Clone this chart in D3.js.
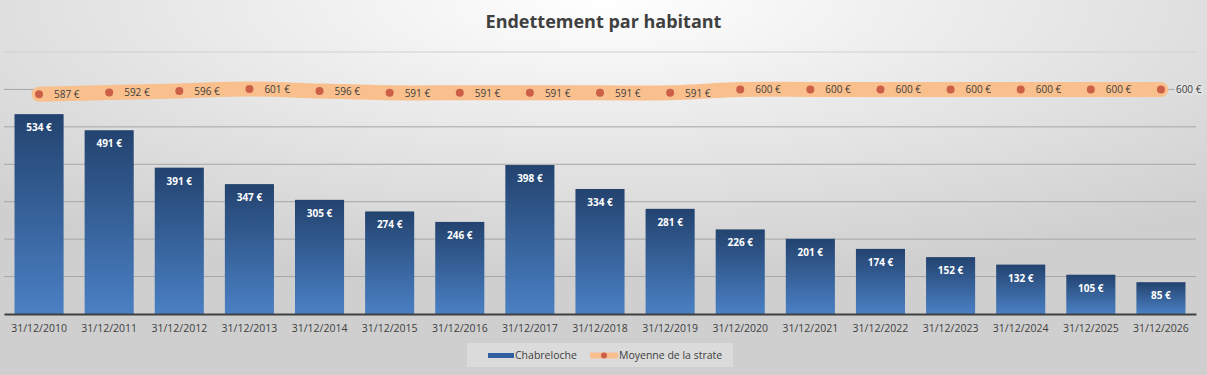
<!DOCTYPE html>
<html>
<head>
<meta charset="utf-8">
<script src="https://cdn.jsdelivr.net/npm/d3@7"></script>
<style>
  html, body { margin: 0; padding: 0; }
  body { width: 1207px; height: 375px; overflow: hidden; }
  svg { display: block; font-family: "Open Sans", "Noto Sans", sans-serif; }
</style>
</head>
<body>
<div id="chart"></div>
<script>
const categories = ['31/12/2010', '31/12/2011', '31/12/2012', '31/12/2013', '31/12/2014', '31/12/2015',
  '31/12/2016', '31/12/2017', '31/12/2018', '31/12/2019', '31/12/2020', '31/12/2021', '31/12/2022',
  '31/12/2023', '31/12/2024', '31/12/2025', '31/12/2026'];
const chabreloche = [534, 491, 391, 347, 305, 274, 246, 398, 334, 281, 226, 201, 174, 152, 132, 105, 85];
const moyenne = [587, 592, 596, 601, 596, 591, 591, 591, 591, 591, 600, 600, 600, 600, 600, 600, 600];
const yTicks = [0, 100, 200, 300, 400, 500, 600, 700];

const width = 1207, height = 375;
const margin = { top: 52, right: 11, bottom: 61, left: 4 };
const innerW = width - margin.left - margin.right;
const innerH = height - margin.top - margin.bottom;

const svg = d3.select('#chart').append('svg')
  .attr('width', width)
  .attr('height', height);

const defs = svg.append('defs');
const bg = defs.append('radialGradient').attr('id', 'bg')
  .attr('cx', '50%').attr('cy', '0%').attr('r', '75%');
bg.append('stop').attr('offset', '0%').attr('stop-color', '#ffffff');
bg.append('stop').attr('offset', '100%').attr('stop-color', '#cfcfcf');

const barGrad = defs.append('linearGradient').attr('id', 'bar')
  .attr('x1', 0).attr('y1', 0).attr('x2', 0).attr('y2', 1);
barGrad.append('stop').attr('offset', '0%').attr('stop-color', '#23436f');
barGrad.append('stop').attr('offset', '100%').attr('stop-color', '#4a80c4');

svg.append('rect').attr('width', width).attr('height', height).attr('fill', 'url(#bg)');

svg.append('text')
  .attr('x', width / 2)
  .attr('y', 28)
  .attr('text-anchor', 'middle')
  .style('font-size', '18px')
  .style('font-weight', 'bold')
  .style('fill', '#404040')
  .text('Endettement par habitant');

const g = svg.append('g').attr('transform', `translate(${margin.left},${margin.top})`);

const x = d3.scaleBand().domain(categories).range([0, innerW]).paddingInner(0.3).paddingOuter(0.15);
const y = d3.scaleLinear().domain([0, 700]).range([innerH, 0]);

// gridlines
g.append('g')
  .selectAll('line')
  .data(yTicks.slice(1))
  .enter().append('line')
    .attr('x1', 0).attr('x2', innerW)
    .attr('y1', d => y(d)).attr('y2', d => y(d))
    .attr('stroke', d => d === 700 ? '#d0d0d0' : '#a6a6a6')
    .attr('stroke-width', 1);

// bars
g.selectAll('rect.bar')
  .data(chabreloche)
  .enter().append('rect')
    .attr('class', 'bar')
    .attr('x', (d, i) => x(categories[i]))
    .attr('y', d => y(d))
    .attr('width', x.bandwidth())
    .attr('height', d => innerH - y(d))
    .attr('fill', 'url(#bar)');

g.selectAll('text.barlabel')
  .data(chabreloche)
  .enter().append('text')
    .attr('class', 'barlabel')
    .attr('x', (d, i) => x(categories[i]) + x.bandwidth() / 2)
    .attr('y', d => y(d) + 17)
    .attr('text-anchor', 'middle')
    .style('font-size', '10px')
    .style('font-weight', 'bold')
    .style('fill', '#ffffff')
    .text(d => d + ' €');

// x axis
const xAxis = d3.axisBottom(x).tickSize(0).tickPadding(11);
const xg = g.append('g')
  .attr('transform', `translate(0,${innerH})`)
  .call(xAxis);
xg.select('.domain').attr('stroke', '#404040').attr('stroke-width', 2);
xg.selectAll('text')
  .style('font-size', '10.5px')
  .style('font-family', '"Open Sans", "Noto Sans", sans-serif')
  .style('fill', '#404040');

// line
const cx = i => x(categories[i]) + x.bandwidth() / 2;
const line = d3.line()
  .x((d, i) => cx(i))
  .y(d => y(d))
  .curve(d3.curveCatmullRom);

g.append('path')
  .datum(moyenne)
  .attr('d', line)
  .attr('fill', 'none')
  .attr('stroke', '#f9bf8c')
  .attr('stroke-width', 15)
  .attr('stroke-linecap', 'round');

g.selectAll('circle.pt')
  .data(moyenne)
  .enter().append('circle')
    .attr('class', 'pt')
    .attr('cx', (d, i) => cx(i))
    .attr('cy', d => y(d))
    .attr('r', 4)
    .attr('fill', '#cc5f48');

const last = moyenne.length - 1;
g.selectAll('text.ptlabel')
  .data(moyenne)
  .enter().append('text')
    .attr('class', 'ptlabel')
    .attr('x', (d, i) => cx(i) + 15)
    .attr('y', d => y(d) + 4)
    .style('font-size', '10px')
    .style('fill', '#404040')
    .style('paint-order', 'stroke')
    .style('stroke', (d, i) => i === last ? '#e2e2e2' : 'none')
    .style('stroke-width', 4)
    .text(d => d + ' €');

// legend
const legend = svg.append('g').attr('transform', 'translate(467,343)');
legend.append('rect').attr('width', 266).attr('height', 24).attr('fill', '#ffffff').attr('opacity', 0.25);
legend.append('rect').attr('x', 21).attr('y', 10).attr('width', 26).attr('height', 5).attr('fill', '#2f5f9e');
legend.append('text').attr('x', 48).attr('y', 16).style('font-size', '10.5px').style('fill', '#404040').text('Chabreloche');
legend.append('line').attr('x1', 123).attr('x2', 151).attr('y1', 12.5).attr('y2', 12.5)
  .attr('stroke', '#f9bf8c').attr('stroke-width', 6);
legend.append('circle').attr('cx', 137).attr('cy', 12.5).attr('r', 3).attr('fill', '#cc5f48');
legend.append('text').attr('x', 152).attr('y', 16).style('font-size', '10.5px').style('fill', '#404040').text('Moyenne de la strate');
</script>
</body>
</html>
